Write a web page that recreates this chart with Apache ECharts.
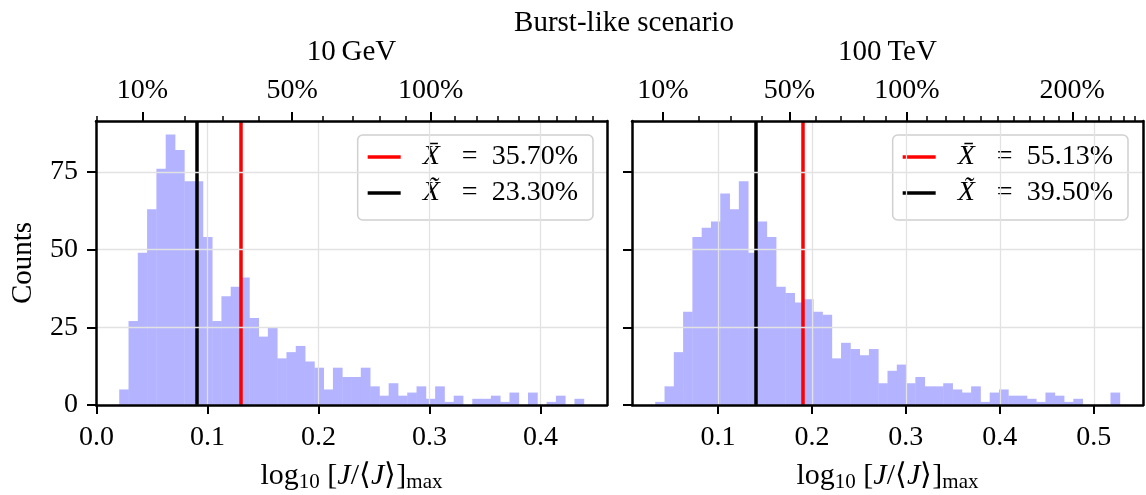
<!DOCTYPE html>
<html><head><meta charset="utf-8">
<script src="https://cdn.jsdelivr.net/npm/echarts@6/dist/echarts.min.js"></script>
<style>html,body{margin:0;padding:0;background:#fff}#c{width:1146px;height:495px}</style>
</head><body><div id="c"></div>
<script>
// ---------------- data ----------------
const titleMain = 'Burst-like scenario';
const panelTitles = ['10\u2009GeV', '100\u2009TeV'];
const counts10GeV = [5,27,49,63,76,87,82,72,72,54, 27,35,38,41,28,22,25,15,17,19, 14,12,5,12,9,9,12,6,3,7, 3,4,6,2,6,1,3,0,2,2, 3,1,4,0,4,0,1,3,0,2];
const counts100TeV = [1,6,17,30,54,57,59,68,63,72, 49,59,54,38,36,33,34,30,29,15, 20,18,16,18,7,11,13,7,9,6, 6,7,5,4,6,1,4,5,3,3, 2,1,4,3,1,2,0,0,0,4];
const binRange10GeV = [0.0204, 0.4389];
const binRange100TeV = [0.0332, 0.5277];
const meanPct = [35.70, 55.13];
const medianPct = [23.30, 39.50];
const bottomTicks10GeV = [0.0, 0.1, 0.2, 0.3, 0.4];
const bottomTicks100TeV = [0.1, 0.2, 0.3, 0.4, 0.5];
const topMajorPct10GeV = [10, 50, 100];
const topMajorPct100TeV = [10, 50, 100, 200];
const topMinorPct10GeV = [0,20,30,40,60,70,80,90,110,120,130,140,150,160,170,180];
const topMinorPct100TeV = [20,30,40,60,70,80,90,110,120,130,140,150,160,170,180,190,210,220,230,240,250];
const yTicks = [0, 25, 50, 75];
const yLabel = 'Counts';

// ---------------- helpers ----------------
const FONT = 'Liberation Serif';
const lg = p => Math.log10(1 + p / 100);
function histData(counts, range) {
  const w = (range[1] - range[0]) / counts.length;
  return counts.map((c, i) => [range[0] + i * w, range[0] + (i + 1) * w, c]);
}
function axisRange(range) {
  const m = 0.05 * (range[1] - range[0]);
  return [range[0] - m, range[1] + m];
}
const maxCount = Math.max(...counts10GeV, ...counts100TeV);
const yMax = maxCount * 1.05;

const panels = [
  {counts: counts10GeV, range: binRange10GeV, bottom: bottomTicks10GeV, major: topMajorPct10GeV, minor: topMinorPct10GeV},
  {counts: counts100TeV, range: binRange100TeV, bottom: bottomTicks100TeV, major: topMajorPct100TeV, minor: topMinorPct100TeV}
];

const grids = [
  {left: 96, right: 539, top: 121, bottom: 90, outerBoundsMode: 'none', containLabel: false},
  {left: 632, right: 3, top: 121, bottom: 90, outerBoundsMode: 'none', containLabel: false}
];

const xNameRich = {
  m: {fontFamily: FONT, fontSize: 30, lineHeight: 32, verticalAlign: 'top', color: '#000'},
  it: {fontFamily: FONT, fontSize: 30, lineHeight: 32, verticalAlign: 'top', fontStyle: 'italic', color: '#000'},
  sub: {fontFamily: FONT, fontSize: 21, lineHeight: 21, padding: [15, 0, 0, 0], verticalAlign: 'bottom', color: '#000'}
};
const xName = '{m|log}{sub|10}{m| [}{it|J}{m|/\u27E8}{it|J}{m|\u27E9]}{sub|max}';

const xAxes = [], yAxes = [], series = [], legends = [], titles = [];
titles.push({text: titleMain, left: 624, top: 9, textAlign: 'center', padding: 0,
  textStyle: {fontFamily: FONT, fontSize: 29, fontWeight: 'normal', color: '#000'}});

panels.forEach((p, i) => {
  const [xmin, xmax] = axisRange(p.range);
  const g = grids[i];
  const center = g.left + (1146 - g.left - g.right) / 2;
  titles.push({text: panelTitles[i], left: center, top: 38, textAlign: 'center', padding: 0,
    textStyle: {fontFamily: FONT, fontSize: 29, fontWeight: 'normal', color: '#000'}});
  // bottom axis
  xAxes.push({
    gridIndex: i, type: 'value', position: 'bottom', min: xmin, max: xmax, z: 10,
    axisLine: {show: true, onZero: false, lineStyle: {color: '#000', width: 2.5}},
    axisTick: {show: true, length: 9, customValues: p.bottom, lineStyle: {color: '#000', width: 2}},
    axisLabel: {customValues: p.bottom, formatter: v => v.toFixed(1), fontFamily: FONT, fontSize: 28, color: '#000', margin: 19},
    splitLine: {show: true, lineStyle: {color: '#e2e2e2', width: 1.3}},
    name: xName, nameLocation: 'middle', nameGap: 56,
    nameTextStyle: {rich: xNameRich}
  });
  // top axis major
  const majorVals = p.major.map(lg);
  xAxes.push({
    gridIndex: i, type: 'value', position: 'top', min: xmin, max: xmax, z: 10,
    axisLine: {show: true, onZero: false, lineStyle: {color: '#000', width: 2.5}},
    axisTick: {show: true, length: 9, customValues: majorVals, lineStyle: {color: '#000', width: 2}},
    axisLabel: {customValues: majorVals, formatter: v => Math.round((Math.pow(10, v) - 1) * 100) + '%',
      fontFamily: FONT, fontSize: 28, color: '#000', margin: 16},
    splitLine: {show: false}
  });
  // top axis minor
  const minorVals = p.minor.map(lg).filter(v => v >= xmin && v <= xmax);
  xAxes.push({
    gridIndex: i, type: 'value', position: 'top', min: xmin, max: xmax, z: 10,
    axisLine: {show: false, onZero: false},
    axisTick: {show: true, length: 5, customValues: minorVals, lineStyle: {color: '#000', width: 1.5}},
    axisLabel: {show: false},
    splitLine: {show: false}
  });
  // left y axis
  yAxes.push({
    gridIndex: i, type: 'value', position: 'left', min: 0, max: yMax, z: 10,
    axisLine: {show: true, onZero: false, lineStyle: {color: '#000', width: 2.5}},
    axisTick: {show: true, length: 9, customValues: yTicks, lineStyle: {color: '#000', width: 2}},
    axisLabel: {show: i === 0, customValues: yTicks, fontFamily: FONT, fontSize: 28, color: '#000', margin: 18},
    splitLine: {show: true, lineStyle: {color: '#e2e2e2', width: 1.3}},
    name: i === 0 ? yLabel : '', nameLocation: 'middle', nameGap: 58, nameRotate: 90,
    nameTextStyle: {fontFamily: FONT, fontSize: 29, color: '#000'}
  });
  // right spine
  yAxes.push({
    gridIndex: i, type: 'value', position: 'right', min: 0, max: yMax, z: 10,
    axisLine: {show: true, onZero: false, lineStyle: {color: '#000', width: 2.5}},
    axisTick: {show: false}, axisLabel: {show: false}, splitLine: {show: false}
  });
  const xb = i * 3, yl = i * 2;
  series.push({
    type: 'custom', xAxisIndex: xb, yAxisIndex: yl, z: 2, silent: true,
    encode: {x: [0, 1], y: 2},
    data: histData(p.counts, p.range),
    renderItem: (params, api) => {
      const a = api.coord([api.value(0), 0]);
      const b = api.coord([api.value(1), api.value(2)]);
      return {type: 'rect', shape: {x: a[0], y: b[1], width: b[0] - a[0] + 0.4, height: a[1] - b[1]},
        style: {fill: '#b3b3ff'}};
    }
  });
  const mk = (name, pct, color) => ({
    type: 'line', name, xAxisIndex: xb, yAxisIndex: yl, data: [], color, z: 5,
    lineStyle: {color, width: 3.5},
    markLine: {silent: true, symbol: ['none', 'none'], animation: false, label: {show: false},
      lineStyle: {color, width: 3.5, type: 'solid'}, emphasis: {disabled: true},
      data: [{xAxis: lg(pct)}]}
  });
  series.push(mk('mean' + i, meanPct[i], '#ff0000'));
  series.push(mk('median' + i, medianPct[i], '#000000'));
  const labels = {
    ['mean' + i]: ['X\u0304', meanPct[i].toFixed(2) + '%'],
    ['median' + i]: ['X\u0303', medianPct[i].toFixed(2) + '%']
  };
  legends.push({
    data: ['mean' + i, 'median' + i], orient: 'vertical',
    right: i === 0 ? 553 : 18, top: 135,
    icon: 'rect', itemWidth: 33, itemHeight: 3.5, itemGap: 4,
    padding: [6, 15, 11, 10],
    backgroundColor: 'rgba(255,255,255,0.8)', borderColor: '#d0d0d0', borderWidth: 1.5, borderRadius: 5,
    selectedMode: false,
    formatter: n => '{sp|}{x|' + labels[n][0] + '}{eq|=}{m|' + labels[n][1] + '}',
    textStyle: {
      fontFamily: FONT, fontSize: 28, color: '#000', lineHeight: 32,
      rich: {
        sp: {width: 17},
        x: {width: 25, fontFamily: FONT, fontSize: 28, fontStyle: 'italic', lineHeight: 32},
        eq: {width: 44, align: 'center', fontFamily: FONT, fontSize: 28, lineHeight: 32},
        m: {fontFamily: FONT, fontSize: 28, lineHeight: 32}
      }
    }
  });
});

const chart = echarts.init(document.getElementById('c'), null, {renderer: 'canvas'});
chart.setOption({
  animation: false,
  backgroundColor: '#fff',
  title: titles,
  grid: grids,
  xAxis: xAxes,
  yAxis: yAxes,
  legend: legends,
  series
});
</script>
</body></html>
